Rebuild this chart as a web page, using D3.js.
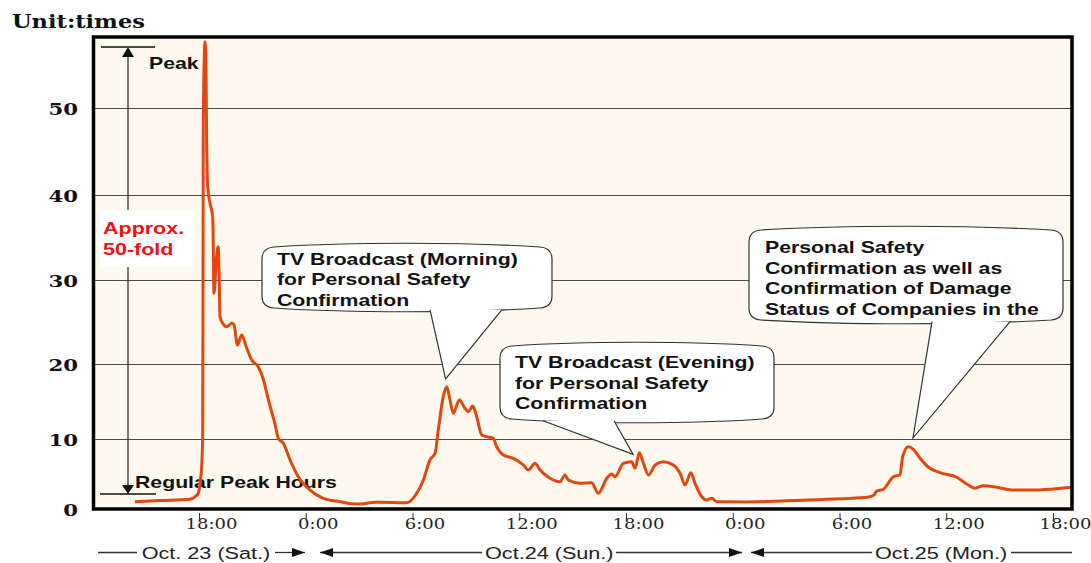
<!DOCTYPE html>
<html><head><meta charset="utf-8">
<script src="https://cdn.jsdelivr.net/npm/d3@7"></script>
<style>html,body{margin:0;padding:0;background:#fff;} svg{display:block}</style>
</head><body>
<svg id="c" width="1091" height="563"></svg>
<script>
// time in hours counted from Oct. 23, 0:00
const hours = [14.40,15.81,17.49,17.83,17.96,18.08,18.15,18.21,18.24,18.34,18.39,18.43,18.49,18.62,18.77,18.80,18.84,18.99,19.08,19.14,19.18,19.33,19.56,19.84,19.97,20.16,20.40,20.68,20.96,21.33,21.61,21.90,22.27,22.46,22.74,23.12,23.58,24.24,24.99,25.93,26.86,27.99,29.67,30.24,30.61,30.98,31.27,31.45,31.73,31.92,32.11,32.29,32.63,32.95,33.14,33.38,33.61,33.89,34.17,34.54,34.73,35.10,35.67,36.23,36.51,36.89,37.17,37.73,38.29,38.57,38.76,39.42,40.07,40.44,40.92,41.20,41.38,41.85,42.32,42.51,42.75,42.98,43.26,43.64,44.10,44.66,45.04,45.32,45.64,45.88,46.26,46.54,46.82,47.10,48.79,51.03,55.53,55.94,56.09,56.46,57.03,57.40,57.55,57.87,58.15,58.53,59.00,59.65,60.59,61.15,61.62,62.09,62.84,63.77,65.09,66.02,67.05];
const ratio = [1.04,1.21,1.39,1.86,2.24,4.14,6.04,10.8,48.62,57.62,55.14,46.32,40.95,39.02,37.45,34.32,28.42,32.74,33.92,29.61,25.63,24.85,24.44,24.85,24.64,22.26,23.45,21.90,20.48,19.64,18.0,15.2,12.0,10.09,9.39,7.0,4.61,2.71,1.53,1.04,0.71,0.96,0.90,2.24,4.14,7.0,7.96,11.2,15.64,16.97,15.2,13.43,15.2,14.09,13.64,14.4,12.97,10.53,10.31,10.09,8.9,7.71,7.24,6.29,5.57,6.53,5.57,4.39,3.9,4.86,4.14,3.67,3.76,2.24,4.39,5.0,4.61,6.53,6.76,5.81,8.04,6.53,4.86,6.29,6.76,6.29,5.1,3.43,5.19,3.67,1.76,1.29,1.53,1.04,1.0,1.19,1.67,2.0,2.57,2.81,4.61,4.86,7.47,8.9,8.53,7.24,5.96,5.19,4.53,3.57,2.96,3.33,3.1,2.71,2.71,2.86,3.1];
const yTicks = [0,10,20,30,40,50];
const xTickHours = [18,24,30,36,42,48,54,60,66];
const xTickLabels = ["18:00","0:00","6:00","12:00","18:00","0:00","6:00","12:00","18:00"];
const dayLabels = ["Oct. 23 (Sat.)","Oct.24 (Sun.)","Oct.25 (Mon.)"];
const unitLabel = "Unit:times";
const calloutMorning = ["TV Broadcast (Morning)","for Personal Safety","Confirmation"];
const calloutEvening = ["TV Broadcast (Evening)","for Personal Safety","Confirmation"];
const calloutCompany = ["Personal Safety","Confirmation as well as","Confirmation of Damage","Status of Companies in the"];
const anchorMorning = [31.86, 18.0];
const anchorEvening = [42.4, 7.8];
const anchorCompany = [58.13, 10.13];

const SX = 1.25;
const SANS = "'Liberation Sans', Arial, sans-serif";
const SERIF = "'DejaVu Serif', serif";
const LINE = "#e2470e";

const svg = d3.select("#c");
const L = 93.5, R = 1072, T = 37, B = 509;

const x = d3.scaleLinear().domain([18, 66]).range([199, 1053]);
const y = d3.scaleLinear().domain([0,10,20,30,40,50,60]).range([509,439,364,280,195,108,21]);

function txt(g, tx, ty, s, size, opts={}) {
  return g.append("text")
    .attr("transform", `translate(${tx},${ty}) scale(${SX},1)`)
    .attr("font-family", opts.family || SANS)
    .attr("font-size", size)
    .attr("font-weight", opts.weight || "bold")
    .attr("fill", opts.fill || "#111")
    .attr("text-anchor", opts.anchor || "start")
    .text(s);
}

// plot background
svg.append("rect").attr("x", L).attr("y", T).attr("width", R - L).attr("height", B - T).attr("fill", "#fdf9ee");

// gridlines
svg.append("g").selectAll("line").data(yTicks.filter(d => d > 0)).join("line")
  .attr("x1", L).attr("x2", R)
  .attr("y1", d => Math.round(y(d)) + 0.5).attr("y2", d => Math.round(y(d)) + 0.5)
  .attr("stroke", "#4a4a4a").attr("stroke-width", 1);

// peak / regular annotation
const ann = svg.append("g");
ann.append("line").attr("x1", 128).attr("x2", 128).attr("y1", 52).attr("y2", 488).attr("stroke", "#333").attr("stroke-width", 1.3);
ann.append("line").attr("x1", 101).attr("x2", 155).attr("y1", 47).attr("y2", 47).attr("stroke", "#111").attr("stroke-width", 1.4);
ann.append("line").attr("x1", 100).attr("x2", 156).attr("y1", 494).attr("y2", 494).attr("stroke", "#111").attr("stroke-width", 1.4);
ann.append("path").attr("d", "M128,47 L122,57 L134,57 Z").attr("fill", "#111");
ann.append("path").attr("d", "M128,494 L122,485 L134,485 Z").attr("fill", "#111");
ann.append("rect").attr("x", 100).attr("y", 210).attr("width", 94).attr("height", 57).attr("fill", "#fff");
txt(ann, 103, 234, "Approx.", 17.2, {fill: "#f01212"});
txt(ann, 103, 255, "50-fold", 17.2, {fill: "#f01212"});
txt(ann, 149, 69, "Peak", 17, {fill: "#111"});
txt(ann, 135, 488, "Regular Peak Hours", 17, {fill: "#111"});

// data line
const pts = hours.map((h, i) => [h, ratio[i]]);
svg.append("path").datum(pts)
  .attr("d", d3.line().x(d => x(d[0])).y(d => y(d[1])).curve(d3.curveMonotoneX))
  .attr("fill", "none").attr("stroke", LINE).attr("stroke-width", 3).attr("stroke-linejoin", "round");

// callouts
function bubble(x0, y0, x1, y1, b1, b2, anchor, lines, tx, ty0) {
  const g = svg.append("g");
  const w = x1 - x0, r = 12;
  const p = `M${x0+r},${y0+3} C${x0+w*0.3},${y0-2} ${x1-w*0.3},${y0-2} ${x1-r},${y0+3} Q${x1},${y0+4} ${x1},${y0+r+3} L${x1},${y1-r-3} Q${x1},${y1-4} ${x1-r},${y1-3} C${x1-w*0.3},${y1+2} ${x0+w*0.3},${y1+2} ${x0+r},${y1-3} Q${x0},${y1-4} ${x0},${y1-r-3} L${x0},${y0+r+3} Q${x0},${y0+4} ${x0+r},${y0+3} Z`;
  g.append("path").attr("d", p).attr("fill", "#fff").attr("stroke", "#333").attr("stroke-width", 1.2);
  const tX = x(anchor[0]), tY = y(anchor[1]);
  g.append("path").attr("d", `M${b1},${y1-1.3} L${tX},${tY} L${b2},${y1-1.3}`)
    .attr("fill", "#fff").attr("stroke", "#333").attr("stroke-width", 1.2);
  lines.forEach((s, i) => txt(g, tx, ty0 + i * 20.5, s, 17, {fill: "#111"}));
}
bubble(262, 244, 552, 311, 430, 502, anchorMorning, calloutMorning, 277, 264.5);
bubble(500, 343, 774, 422, 543, 614, anchorEvening, calloutEvening, 515, 368);
bubble(749, 227, 1063, 323, 932, 1010, anchorCompany, calloutCompany, 765, 253);

// frame
svg.append("rect").attr("x", L).attr("y", T).attr("width", R - L).attr("height", B - T)
  .attr("fill", "none").attr("stroke", "#000").attr("stroke-width", 3.5);

// y axis labels
const gy = svg.append("g").attr("transform", "translate(78,0)")
  .call(d3.axisLeft(y).tickValues(yTicks).tickSize(0).tickPadding(0));
gy.select(".domain").remove();
gy.selectAll(".tick text").attr("x", 0).attr("dy", null)
  .attr("transform", `translate(0,6.5) scale(${SX},1)`)
  .attr("font-family", SERIF).attr("font-weight", "bold").attr("font-size", 17).attr("fill", "#111");

// x axis labels
const gx = svg.append("g").attr("transform", `translate(0,${B})`)
  .call(d3.axisBottom(x).tickValues(xTickHours).tickFormat((d, i) => xTickLabels[i]).tickSize(0).tickPadding(0));
gx.select(".domain").remove();
gx.selectAll(".tick line").attr("y1", 4).attr("y2", 10).attr("stroke", "#333").attr("stroke-width", 1);
gx.selectAll(".tick text").attr("y", 0).attr("dy", null)
  .attr("transform", `translate(12,19.5) scale(${SX},1)`)
  .attr("font-family", SERIF).attr("font-size", 14.4).attr("fill", "#222");

// unit label
txt(svg, 12, 28, unitLabel, 18, {family: SERIF, fill: "#111"});

// day row
const row = svg.append("g");
const rowY = 552.5;
[[98,137],[275,305],[320,482],[616,742],[751,872],[1011,1072]].forEach(s =>
  row.append("line").attr("x1", s[0]).attr("x2", s[1]).attr("y1", rowY).attr("y2", rowY).attr("stroke", "#333").attr("stroke-width", 1.3));
[[305,1],[320,-1],[742,1],[751,-1]].forEach(a => {
  const [px, dir] = a;
  row.append("path").attr("d", `M${px},${rowY} L${px - dir*13},${rowY-4.5} L${px - dir*13},${rowY+4.5} Z`).attr("fill", "#111");
});
[[141.7, dayLabels[0]], [485, dayLabels[1]], [875, dayLabels[2]]].forEach(d =>
  txt(row, d[0], 558.5, d[1], 17.3, {weight: "normal", fill: "#222"}));
</script>
</body></html>
